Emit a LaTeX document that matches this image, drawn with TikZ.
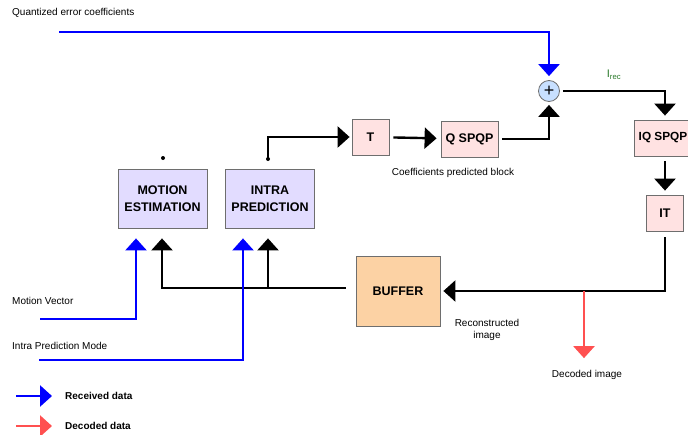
\documentclass[tikz,border=0pt]{standalone}
\usepackage{fontspec}
\setmainfont{Liberation Sans}
\usetikzlibrary{arrows.meta,positioning,calc}
\definecolor{blockpink}{RGB}{255,226,226}
\definecolor{blocklilac}{RGB}{226,220,255}
\definecolor{bufferorange}{RGB}{252,210,164}
\definecolor{sumblue}{RGB}{200,224,255}
\definecolor{rxblue}{RGB}{0,0,255}
\definecolor{decred}{RGB}{255,80,80}
\definecolor{recgreen}{RGB}{40,120,40}
\definecolor{edgegrey}{RGB}{110,110,110}
\tikzset{
  base/.style={font=\fontsize{12.5}{15}\selectfont\bfseries, align=center, inner sep=1pt},
  box/.style={base, rectangle, draw=edgegrey, line width=0.8pt},
  qbox/.style={box, fill=blockpink},
  predbox/.style={box, fill=blocklilac, minimum width=89pt, minimum height=59pt},
  bufbox/.style={box, fill=bufferorange, minimum width=84pt, minimum height=70pt},
  sum/.style={circle, draw=edgegrey, fill=sumblue, line width=0.8pt, minimum size=21pt, inner sep=0pt, font=\fontsize{18}{18}\selectfont},
  lbl/.style={font=\fontsize{10}{12.5}\selectfont, align=center, inner sep=0pt},
  legend/.style={lbl, font=\fontsize{10}{12}\selectfont\bfseries, anchor=west},
  arr/.style={-{Triangle[length=12pt,width=21pt]}, line width=2.4pt, shorten >=4pt},
  arrb/.style={arr, draw=rxblue},
  arrr/.style={arr, draw=decred},
}
\begin{document}
\begin{tikzpicture}[x=1pt,y=-1pt]
  \useasboundingbox (0,0) rectangle (688,434);
  % blocks
  \node[sum] (add) at (549,91) {+};
  \node[qbox,minimum width=58pt,minimum height=36pt,font=\fontsize{11.8}{14}\selectfont\bfseries] (iq) at (663,138) {IQ SPQP};
  \node[qbox,minimum width=37pt,minimum height=36pt] (it) at (665,213) {IT};
  \node[qbox,minimum width=37pt,minimum height=36pt] (t) at (370.5,137) {T};
  \node[qbox,minimum width=57pt,minimum height=36pt] (q) at (469.5,139) {Q SPQP};
  \node[predbox] (me) at (162.5,198.5) {MOTION\\[2pt]ESTIMATION};
  \node[predbox] (ip) at (270,198.5) {INTRA\\[2pt]PREDICTION};
  \node[bufbox] (buf) at (398,291) {BUFFER};
  % labels
  \node[lbl,anchor=west] (qlab) at (12,13) {Quantized error coefficients};
  \node[lbl,text=recgreen,font=\fontsize{11}{13}\selectfont] (irec) at (614,75) {I\textsubscript{rec}};
  \node[lbl] (cpb) at (453,173) {Coefficients predicted block};
  \node[lbl] (rec) at (487,330) {Reconstructed\\image};
  \node[lbl] (decl) at (587,375) {Decoded image};
  \node[lbl,anchor=west] (mvlab) at (12,301) {Motion Vector};
  \node[lbl,anchor=west] (iplab) at (12,346) {Intra Prediction Mode};
  \coordinate (qin) at (59,32);
  \coordinate (mvin) at (40,319);
  \coordinate (ipin) at (39,360);
  \coordinate (medot) at (163,158);
  \coordinate (ipdot) at (268,159);
  \coordinate (split) at (584,291);
  \fill (medot) circle (2pt);
  \fill (ipdot) circle (2pt);
  % forward path
  \draw[arr,shorten >=2pt] (ipdot) |- (t.west);
  \draw[arr,shorten <=4pt] (t) -- (q);
  \draw[arr,shorten <=4pt,shorten >=3pt] (q.east) -| (add.south);
  \draw[arrb] (qin) -| (add.north);
  \draw[arr,shorten <=3pt] (add.east) -| (it.north |- iq.north);
  \draw[arr,shorten <=5pt] (it.north |- iq.south) -- (it.north);
  \draw[arr,shorten <=6pt,shorten >=3pt] (it.south) |- (buf.east);
  \draw[arrr,shorten >=12pt] (split) -- (split |- decl.north);
  % feedback to prediction
  \draw[arr,shorten <=10pt,shorten >=10pt] ([yshift=3pt]buf.west) -| ([xshift=-0.5pt]me.south);
  \draw[arr,shorten >=10pt] ([xshift=-2pt,yshift=3pt]ip.south |- buf.west) -- ([xshift=-2pt]ip.south);
  \draw[arrb,shorten >=10pt] (mvin) -| ([xshift=-26.5pt]me.south);
  \draw[arrb,shorten >=10pt] (ipin) -| ([xshift=-27pt]ip.south);
  % legend
  \node[legend] (rxlab) at (65,396) {Received data};
  \node[legend] (dclab) at (65,426) {Decoded data};
  \coordinate (rxa) at (16,396);
  \coordinate (dca) at (16,426);
  \draw[arrb,shorten >=13pt] (rxa) -- (rxlab.west);
  \draw[arrr,shorten >=13pt] (dca) -- (dclab.west);
\end{tikzpicture}
\end{document}
